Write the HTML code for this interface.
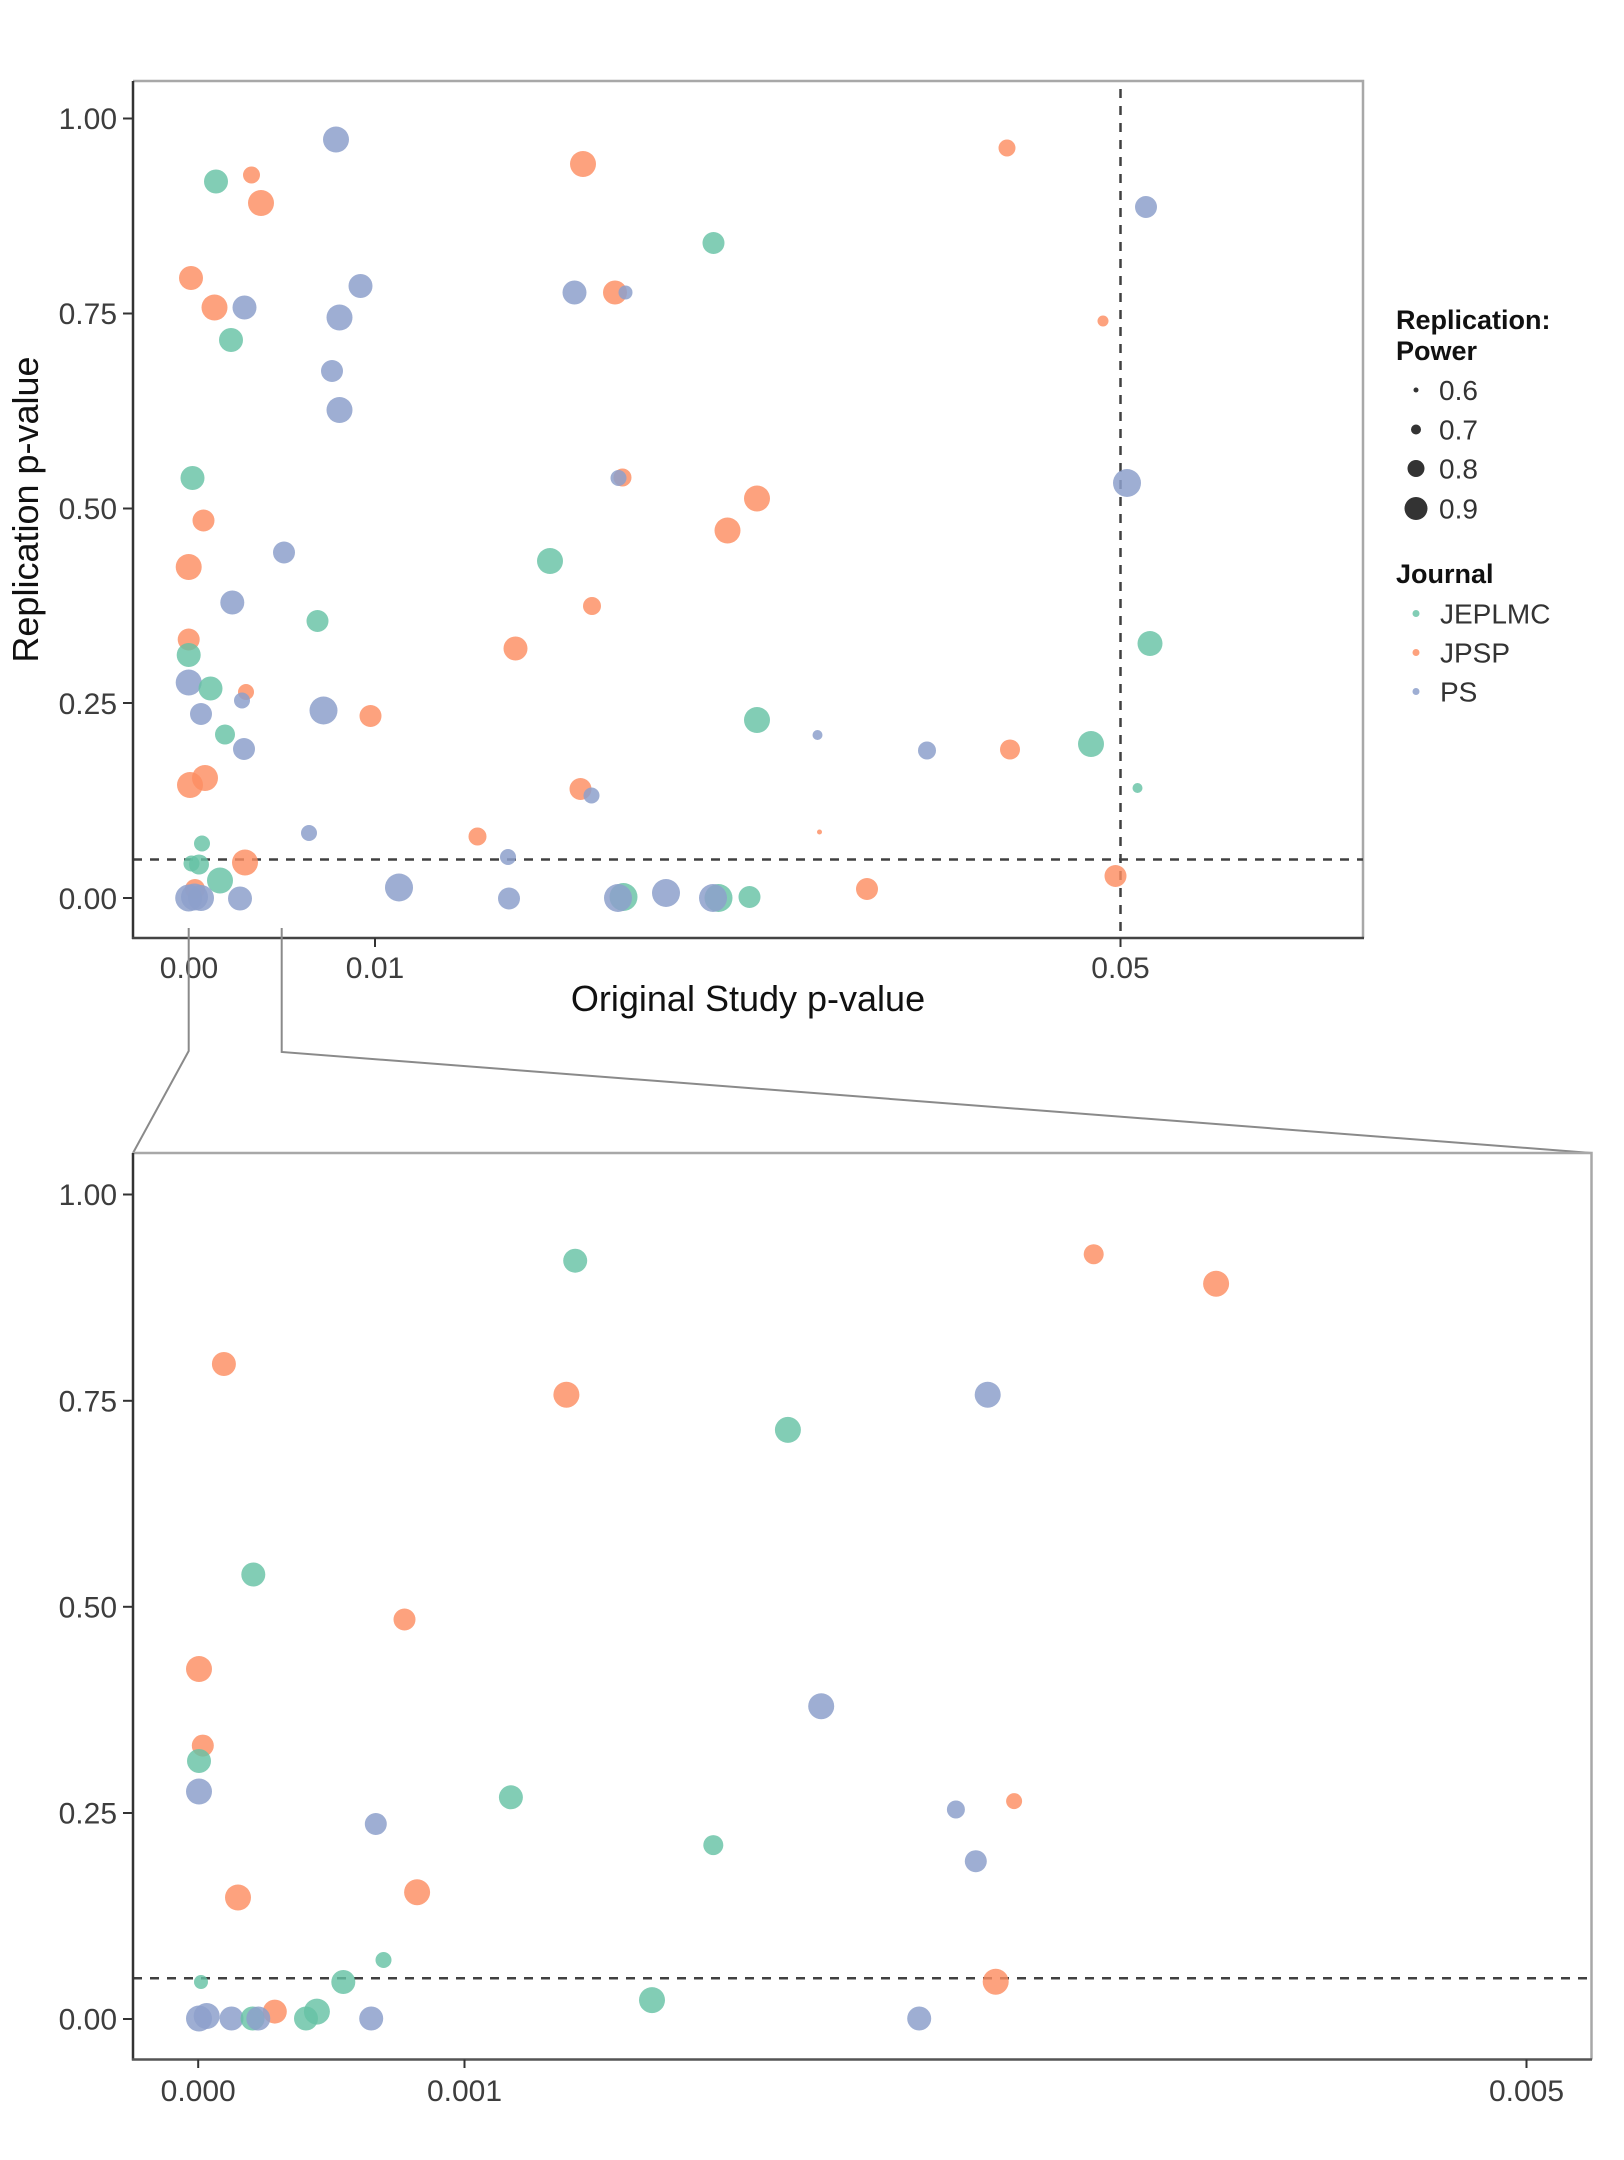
<!DOCTYPE html>
<html>
<head>
<meta charset="utf-8">
<style>
  html,body{margin:0;padding:0;background:#fff;}
  svg{display:block;}
  .g{fill:#66c2a5;fill-opacity:.82}
  .o{fill:#fc8d62;fill-opacity:.82}
  .b{fill:#8da0cb;fill-opacity:.85}
  .tick{font-family:"Liberation Sans",Arial,sans-serif;font-size:30px;fill:#3d3d3d;}
  .title{font-family:"Liberation Sans",Arial,sans-serif;font-size:36px;fill:#111;}
  .lt{font-family:"Liberation Sans",Arial,sans-serif;font-size:27px;font-weight:bold;fill:#111;}
  .li{font-family:"Liberation Sans",Arial,sans-serif;font-size:28px;fill:#333;}
</style>
</head>
<body>
<svg width="1624" height="2160" viewBox="0 0 1624 2160" xmlns="http://www.w3.org/2000/svg">
<rect width="1624" height="2160" fill="#fff"/>

<!-- ============ TOP PLOT ============ -->
<!-- frame top/right grey -->
<polyline points="133,81 1363,81 1363,938" fill="none" stroke="#a8a8a8" stroke-width="2.5"/>
<!-- reference dashed lines -->
<line x1="133" y1="859.5" x2="1363" y2="859.5" stroke="#404040" stroke-width="2.5" stroke-dasharray="9 8"/>
<line x1="1120.5" y1="89" x2="1120.5" y2="938" stroke="#404040" stroke-width="2.5" stroke-dasharray="9 8"/>

<!-- points -->
<circle class="b" cx="336" cy="139.5" r="13"/>
<circle class="g" cx="216" cy="181.5" r="12"/>
<circle class="o" cx="251.5" cy="175" r="8.5"/>
<circle class="o" cx="261" cy="203" r="13"/>
<circle class="o" cx="583" cy="164" r="13"/>
<circle class="o" cx="1007" cy="148" r="8.5"/>
<circle class="b" cx="1146" cy="207" r="11"/>
<circle class="g" cx="713.5" cy="243" r="11"/>
<circle class="o" cx="191" cy="278" r="12"/>
<circle class="o" cx="214.5" cy="307.5" r="13"/>
<circle class="b" cx="244.5" cy="307.5" r="12"/>
<circle class="g" cx="231" cy="340" r="12"/>
<circle class="b" cx="360.5" cy="286" r="12"/>
<circle class="b" cx="339.5" cy="317.5" r="13"/>
<circle class="b" cx="332" cy="371" r="11"/>
<circle class="b" cx="339.5" cy="410" r="13"/>
<circle class="b" cx="574.5" cy="292.5" r="12"/>
<circle class="o" cx="615" cy="292.5" r="12"/>
<circle class="b" cx="625.5" cy="292.5" r="7"/>
<circle class="o" cx="1103" cy="321" r="5.5"/>
<circle class="g" cx="192.5" cy="478" r="12"/>
<circle class="o" cx="622.5" cy="477.5" r="9"/>
<circle class="b" cx="618.5" cy="478" r="8"/>
<circle class="o" cx="757" cy="498.5" r="13"/>
<circle class="o" cx="727.5" cy="530.5" r="13"/>
<circle class="o" cx="203.5" cy="520.5" r="11"/>
<circle class="b" cx="1127" cy="483" r="14"/>
<circle class="o" cx="188.7" cy="567" r="13"/>
<circle class="b" cx="284" cy="552.5" r="11"/>
<circle class="b" cx="232.3" cy="602.5" r="12"/>
<circle class="g" cx="317.5" cy="621" r="11"/>
<circle class="g" cx="550" cy="561" r="13"/>
<circle class="o" cx="592" cy="606" r="9"/>
<circle class="o" cx="188.7" cy="639.5" r="11"/>
<circle class="g" cx="188.7" cy="655" r="12"/>
<circle class="o" cx="515.5" cy="648.5" r="12"/>
<circle class="g" cx="1150" cy="643.5" r="12.5"/>
<circle class="b" cx="188.7" cy="682.5" r="13"/>
<circle class="g" cx="210.5" cy="688.5" r="12"/>
<circle class="o" cx="246" cy="692" r="8"/>
<circle class="b" cx="242" cy="700.5" r="8"/>
<circle class="b" cx="323.5" cy="710.5" r="14"/>
<circle class="o" cx="370.5" cy="716" r="11"/>
<circle class="b" cx="201" cy="714" r="11"/>
<circle class="g" cx="225" cy="734.5" r="10"/>
<circle class="b" cx="244" cy="749" r="11"/>
<circle class="g" cx="757" cy="720" r="13"/>
<circle class="b" cx="817.5" cy="735" r="5"/>
<circle class="b" cx="927" cy="750.5" r="9"/>
<circle class="o" cx="1010" cy="749.5" r="10"/>
<circle class="g" cx="1091" cy="744" r="13"/>
<circle class="g" cx="1137.5" cy="788" r="5"/>
<circle class="o" cx="190" cy="785" r="13"/>
<circle class="o" cx="205" cy="778" r="13"/>
<circle class="o" cx="580.5" cy="789" r="11"/>
<circle class="b" cx="591.5" cy="795.5" r="8"/>
<circle class="b" cx="309" cy="833" r="8"/>
<circle class="o" cx="477.5" cy="836.5" r="9"/>
<circle class="b" cx="508" cy="857" r="8"/>
<circle class="o" cx="819.5" cy="832" r="2.5"/>
<circle class="g" cx="202" cy="843.5" r="8"/>
<circle class="g" cx="191.5" cy="863.5" r="8"/>
<circle class="g" cx="199" cy="864.5" r="10"/>
<circle class="o" cx="245" cy="862.5" r="13"/>
<circle class="g" cx="220" cy="880.5" r="13"/>
<circle class="o" cx="195" cy="889" r="10"/>
<circle class="b" cx="188.7" cy="898" r="13.5"/>
<circle class="b" cx="194.5" cy="897" r="13.5"/>
<circle class="b" cx="201" cy="898" r="13"/>
<circle class="b" cx="240" cy="898.5" r="12"/>
<circle class="b" cx="399" cy="887.5" r="14"/>
<circle class="b" cx="509" cy="898.5" r="11"/>
<circle class="g" cx="623.5" cy="897" r="14"/>
<circle class="b" cx="618" cy="898" r="14"/>
<circle class="b" cx="666" cy="893" r="14"/>
<circle class="g" cx="718.5" cy="898" r="14"/>
<circle class="b" cx="713" cy="898" r="14"/>
<circle class="g" cx="749.5" cy="897" r="11"/>
<circle class="o" cx="867" cy="889" r="11"/>
<circle class="o" cx="1115.5" cy="876" r="11"/>

<!-- axes -->
<line x1="133" y1="81" x2="133" y2="939" stroke="#333" stroke-width="2.5"/>
<line x1="132" y1="938" x2="1364" y2="938" stroke="#444" stroke-width="2.5"/>
<!-- y ticks -->
<g stroke="#333" stroke-width="2">
<line x1="123" y1="118.5" x2="133" y2="118.5"/>
<line x1="123" y1="313.5" x2="133" y2="313.5"/>
<line x1="123" y1="508.5" x2="133" y2="508.5"/>
<line x1="123" y1="703" x2="133" y2="703"/>
<line x1="123" y1="898" x2="133" y2="898"/>
<line x1="375" y1="938" x2="375" y2="947"/>
<line x1="1120.5" y1="938" x2="1120.5" y2="947"/>
</g>
<g class="tick" text-anchor="end">
<text x="117" y="129">1.00</text>
<text x="117" y="324">0.75</text>
<text x="117" y="519">0.50</text>
<text x="117" y="714">0.25</text>
<text x="117" y="909">0.00</text>
</g>
<g class="tick" text-anchor="middle">
<text x="189" y="978">0.00</text>
<text x="375" y="978">0.01</text>
<text x="1120.5" y="978">0.05</text>
</g>
<text class="title" x="748" y="1011" text-anchor="middle">Original Study p-value</text>
<text class="title" transform="translate(38,509.5) rotate(-90)" text-anchor="middle">Replication p-value</text>

<!-- legend -->
<text class="lt" x="1396" y="329">Replication:</text>
<text class="lt" x="1396" y="360">Power</text>
<circle cx="1416" cy="390" r="2.5" fill="#333"/>
<circle cx="1416" cy="429.5" r="5" fill="#333"/>
<circle cx="1416" cy="468.5" r="8.5" fill="#333"/>
<circle cx="1416" cy="508.5" r="11.5" fill="#333"/>
<text class="li" x="1439" y="400">0.6</text>
<text class="li" x="1439" y="439.5">0.7</text>
<text class="li" x="1439" y="478.5">0.8</text>
<text class="li" x="1439" y="518.5">0.9</text>
<text class="lt" x="1396" y="583">Journal</text>
<circle class="g" cx="1416" cy="613.5" r="3.5"/>
<circle class="o" cx="1416" cy="652.5" r="3.5"/>
<circle class="b" cx="1416" cy="691.5" r="3.5"/>
<text class="li" x="1440" y="623.5">JEPLMC</text>
<text class="li" x="1440" y="662.5">JPSP</text>
<text class="li" x="1440" y="701.5">PS</text>

<!-- connector lines -->
<polyline points="188.7,928 188.7,1051 133,1153" fill="none" stroke="#8a8a8a" stroke-width="2"/>
<polyline points="281.7,928 281.7,1052 1591.5,1153" fill="none" stroke="#8a8a8a" stroke-width="2"/>

<!-- ============ BOTTOM PLOT ============ -->
<polyline points="133,1153 1591.5,1153 1591.5,2059.5" fill="none" stroke="#a8a8a8" stroke-width="2.5"/>
<line x1="133" y1="1978.3" x2="1591" y2="1978.3" stroke="#404040" stroke-width="2.5" stroke-dasharray="9 8"/>

<circle class="g" cx="575.2" cy="1260.7" r="12"/>
<circle class="o" cx="223.9" cy="1364" r="12"/>
<circle class="o" cx="566.4" cy="1394.7" r="13"/>
<circle class="g" cx="253.3" cy="1574.5" r="12"/>
<circle class="o" cx="404.5" cy="1619.5" r="11"/>
<circle class="o" cx="199" cy="1669" r="13"/>
<circle class="o" cx="202.8" cy="1745.6" r="11"/>
<circle class="g" cx="199" cy="1761" r="12"/>
<circle class="b" cx="199" cy="1791.5" r="13"/>
<circle class="g" cx="510.9" cy="1797.3" r="12"/>
<circle class="b" cx="375.8" cy="1824" r="11"/>
<circle class="o" cx="238" cy="1897.5" r="13"/>
<circle class="o" cx="417.1" cy="1892.2" r="13"/>
<circle class="g" cx="383.5" cy="1960" r="8"/>
<circle class="g" cx="201" cy="1982" r="7"/>
<circle class="g" cx="343.3" cy="1982" r="12"/>
<circle class="o" cx="274.8" cy="2011.6" r="12"/>
<circle class="g" cx="316.9" cy="2011.6" r="13"/>
<circle class="g" cx="306" cy="2018.5" r="12"/>
<circle class="b" cx="371.2" cy="2018.5" r="12"/>
<circle class="b" cx="199" cy="2018.5" r="13"/>
<circle class="b" cx="206.7" cy="2016" r="13"/>
<circle class="b" cx="231.5" cy="2018.5" r="12"/>
<circle class="g" cx="252.6" cy="2018.5" r="12"/>
<circle class="b" cx="258.3" cy="2018.5" r="12"/>
<circle class="b" cx="821.2" cy="1706.2" r="13"/>
<circle class="g" cx="713.3" cy="1845.1" r="10"/>
<circle class="b" cx="955.9" cy="1809.5" r="9"/>
<circle class="o" cx="1014.1" cy="1801.1" r="8"/>
<circle class="b" cx="975.8" cy="1861.2" r="11"/>
<circle class="g" cx="652" cy="2000.1" r="13"/>
<circle class="b" cx="919.2" cy="2018.5" r="12"/>
<circle class="o" cx="995.7" cy="1981.7" r="13"/>
<circle class="o" cx="1093.7" cy="1254.2" r="10"/>
<circle class="o" cx="1216.1" cy="1283.7" r="13"/>
<circle class="b" cx="987.7" cy="1394.7" r="13"/>
<circle class="g" cx="787.9" cy="1429.9" r="13"/>

<line x1="133" y1="1153" x2="133" y2="2060.5" stroke="#333" stroke-width="2.5"/>
<line x1="132" y1="2059.5" x2="1592" y2="2059.5" stroke="#555" stroke-width="2.5"/>
<g stroke="#333" stroke-width="2">
<line x1="123" y1="1194.5" x2="133" y2="1194.5"/>
<line x1="123" y1="1400.8" x2="133" y2="1400.8"/>
<line x1="123" y1="1606.8" x2="133" y2="1606.8"/>
<line x1="123" y1="1813" x2="133" y2="1813"/>
<line x1="123" y1="2019" x2="133" y2="2019"/>
<line x1="198.2" y1="2059.5" x2="198.2" y2="2068"/>
<line x1="464.5" y1="2059.5" x2="464.5" y2="2068"/>
<line x1="1526.5" y1="2059.5" x2="1526.5" y2="2068"/>
</g>
<g class="tick" text-anchor="end">
<text x="117" y="1205">1.00</text>
<text x="117" y="1411.5">0.75</text>
<text x="117" y="1617.5">0.50</text>
<text x="117" y="1823.5">0.25</text>
<text x="117" y="2029.5">0.00</text>
</g>
<g class="tick" text-anchor="middle">
<text x="198.2" y="2101">0.000</text>
<text x="464.5" y="2101">0.001</text>
<text x="1526.5" y="2101">0.005</text>
</g>
</svg>
</body>
</html>
